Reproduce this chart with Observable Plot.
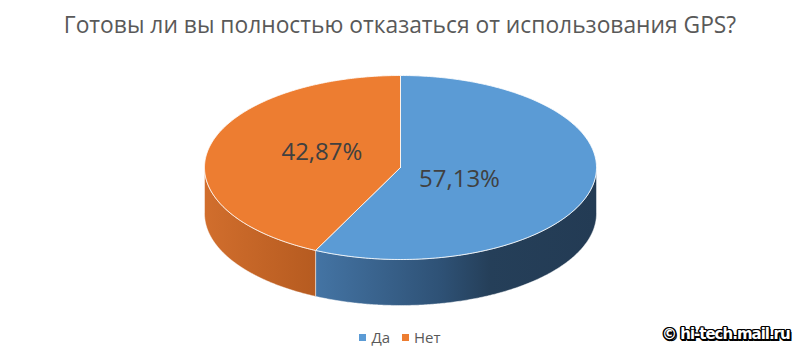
<!DOCTYPE html>
<html><head><meta charset="utf-8">
<script src="https://cdn.jsdelivr.net/npm/d3@7"></script>
<script src="https://cdn.jsdelivr.net/npm/@observablehq/plot@0.6"></script>
<style>
body{margin:0;background:#fff;width:800px;height:358px;overflow:hidden;position:relative;font-family:"Open Sans",sans-serif;}
#title{height:50px;line-height:50px;text-align:center;font-size:22.8px;color:#595959;white-space:nowrap;}
#chart{height:270px;}
#legend{position:absolute;top:326px;left:0;width:800px;height:22px;line-height:22px;text-align:center;font-size:15px;color:#595959;}
#legend .item{display:inline-block;margin:0 6px;}
#legend .sw{display:inline-block;width:7px;height:7px;margin-right:5px;vertical-align:middle;position:relative;top:-1px;}
#wm{position:absolute;left:662px;top:325px;font-family:"DejaVu Sans",sans-serif;font-weight:bold;font-size:15px;letter-spacing:-1px;color:#fff;
text-shadow:-1.5px 0 #000,1.5px 0 #000,0 -1.5px #000,0 1.5px #000,-1px -1px #000,1px 1px #000,-1px 1px #000,1px -1px #000,2px 2px #000;}
</style></head><body>
<div id="title"></div>
<div id="chart"></div>
<div id="legend"></div>
<div id="wm">© hi-tech.mail.ru</div>
<script>
const categories = ["Да", "Нет"];
const values = [57.13, 42.87];
const valueLabels = ["57,13%", "42,87%"];
const topColors = ["#5b9bd5", "#ed7d31"];
const titleText = "Готовы ли вы полностью отказаться от использования GPS?";

// layout (pixels)
const W = 800, H = 270, cxPx = 400, cyPx = 117, rxPx = 196, ryPx = 92, depth = 0.5, labelTurn = 0.17;

const rows = categories.map((c, i) => ({cat: c, value: values[i], label: valueLabels[i]}));
const arcs = d3.pie().sort(null).value(d => d.value)(rows);

function arcPts(a0, a1, dy, key) {
  const n = 240, pts = [];
  for (let i = 0; i <= n; i++) {
    const t = a0 + (a1 - a0) * i / n;
    pts.push({x: Math.sin(t), y: -Math.cos(t) + dy, key});
  }
  return pts;
}

const tops = [];
const sides = {};
const labelPts = [];
arcs.forEach(a => {
  const key = a.data.cat;
  tops.push({x: 0, y: 0, key}, ...arcPts(a.startAngle, a.endAngle, 0, key), {x: 0, y: 0, key});
  const s = Math.max(a.startAngle, Math.PI / 2), e = Math.min(a.endAngle, 3 * Math.PI / 2);
  if (e > s) {
    sides[key] = [...arcPts(s, e, 0, key), ...arcPts(e, s, depth, key)];
    sides[key].push(sides[key][0]);
  }
  const alpha = a.endAngle - a.startAngle, mid = (a.startAngle + a.endAngle) / 2 + labelTurn;
  const r = 0.9 * 4 * Math.sin(alpha / 2) / (3 * alpha);
  labelPts.push({x: r * Math.sin(mid), y: -r * Math.cos(mid), label: a.data.label});
});

const marks = [];
const sideCats = categories.filter(c => sides[c]);
sideCats.forEach(c => {
  marks.push(Plot.line(sides[c], {x: "x", y: "y", fill: "#2f5479", stroke: "white", strokeWidth: 0.6, strokeOpacity: 0.8}));
});
marks.push(Plot.line(tops, {x: "x", y: "y", z: "key", fill: "key", stroke: "white", strokeWidth: 0.9, strokeOpacity: 0.9}));
marks.push(Plot.text(labelPts, {x: "x", y: "y", text: "label", fontSize: 24, fill: "#404040", fontFamily: "Open Sans", textAnchor: "middle"}));

const svg = Plot.plot({
  width: W, height: H, margin: 0,
  x: {domain: [-cxPx / rxPx, (W - cxPx) / rxPx], range: [0, W], axis: null},
  y: {domain: [-cyPx / ryPx, (H - cyPx) / ryPx], range: [0, H], axis: null},
  color: {domain: categories, range: topColors},
  style: {background: "transparent", overflow: "visible"},
  marks
});

const grads = {
  "Да": [[0, "#4474a4"], [0.45, "#2e5175"], [0.62, "#253f59"], [1, "#233b54"]],
  "Нет": [[0, "#d16e2d"], [1, "#b65b20"]]
};
const defs = d3.select(svg).insert("defs", ":first-child");
const groups = d3.select(svg).selectAll(":scope > g").nodes();
sideCats.forEach((c, i) => {
  const g = defs.append("linearGradient").attr("id", "sidegrad" + i).attr("x1", 0).attr("x2", 1).attr("y1", 0).attr("y2", 0);
  grads[c].forEach(([o, col]) => g.append("stop").attr("offset", o).attr("stop-color", col));
  d3.select(groups[i]).attr("fill", `url(#sidegrad${i})`).selectAll("path").attr("fill", `url(#sidegrad${i})`);
});

document.getElementById("chart").appendChild(svg);
document.getElementById("title").textContent = titleText;
const leg = document.getElementById("legend");
categories.forEach((c, i) => {
  const it = document.createElement("span");
  it.className = "item";
  it.innerHTML = `<span class="sw" style="background:${topColors[i]}"></span>${c}`;
  leg.appendChild(it);
});
</script>
</body></html>
